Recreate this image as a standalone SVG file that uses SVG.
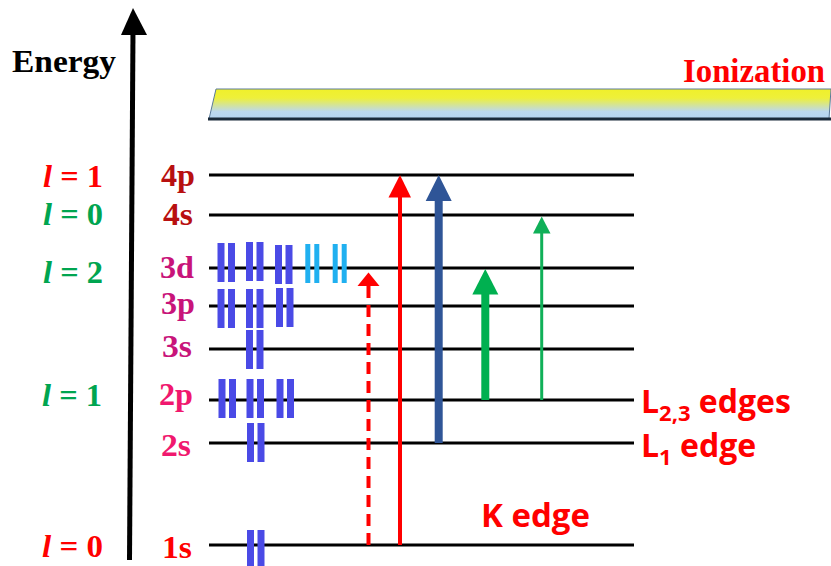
<svg xmlns="http://www.w3.org/2000/svg" xmlns:xlink="http://www.w3.org/1999/xlink" width="831" height="566" viewBox="0 0 831 566">
<defs>
<style>
.lvl{stroke:#000;stroke-width:3;fill:none}
.orb{font-family:"Liberation Serif",serif;font-weight:bold;font-size:31px;text-anchor:middle}
.ell{font-family:"Liberation Serif",serif;font-weight:bold;font-size:32px}
.edge{font-family:"Open Sans","Liberation Sans",sans-serif;font-weight:bold;fill:#ff0000}
.e{fill:#4a4ae6}
.c{fill:#20b0f0}
.red{fill:#ff0000}
.grn{fill:#00a550}
</style>
<linearGradient id="ion" x1="0" y1="0" x2="0" y2="1">
<stop offset="0" stop-color="#f0f02a"/>
<stop offset="0.3" stop-color="#eef03a"/>
<stop offset="0.75" stop-color="#bcd8ee"/>
<stop offset="1" stop-color="#b4d4f2"/>
</linearGradient>
<g id="pair"><rect x="0" y="0" width="7" height="39"/><rect x="10.5" y="0" width="7" height="39"/></g>
<g id="cpair"><rect x="0" y="0" width="5" height="39"/><rect x="9" y="0" width="5" height="39"/></g>
</defs>
<rect width="831" height="566" fill="#fff"/>

<g id="axis">
<line x1="133" y1="30" x2="129.5" y2="560" stroke="#000" stroke-width="5"/>
<polygon points="133,8 147,35 121,35" fill="#000"/>
<text x="12" y="72" font-family="Liberation Serif,serif" font-weight="bold" font-size="32" textLength="104" lengthAdjust="spacingAndGlyphs">Energy</text>
</g>

<g id="ionization">
<polygon points="216,89 831,89 829,119 209,119" fill="url(#ion)" stroke="#5a7a9a" stroke-width="1"/>
<line x1="208" y1="119" x2="831" y2="119" stroke="#1a2a3a" stroke-width="3"/>
<text x="683" y="82" font-family="Liberation Serif,serif" font-weight="bold" font-size="33" fill="#ff0000" textLength="142" lengthAdjust="spacingAndGlyphs">Ionization</text>
</g>

<g id="level-4p"><line class="lvl" x1="209" y1="175" x2="634" y2="175"/><text class="orb" x="178" y="186" fill="#b81010" textLength="34" lengthAdjust="spacingAndGlyphs">4p</text></g>
<g id="level-4s"><line class="lvl" x1="209" y1="215" x2="634" y2="215"/><text class="orb" x="178" y="225" fill="#b81010" textLength="30" lengthAdjust="spacingAndGlyphs">4s</text></g>
<g id="level-3d"><line class="lvl" x1="209" y1="268" x2="634" y2="268"/><text class="orb" x="177" y="278" fill="#c8147a" textLength="34" lengthAdjust="spacingAndGlyphs">3d</text></g>
<g id="level-3p"><line class="lvl" x1="209" y1="306" x2="634" y2="306"/><text class="orb" x="178" y="314" fill="#c8147a" textLength="34" lengthAdjust="spacingAndGlyphs">3p</text></g>
<g id="level-3s"><line class="lvl" x1="209" y1="349" x2="634" y2="349"/><text class="orb" x="177" y="357" fill="#c8147a" textLength="30" lengthAdjust="spacingAndGlyphs">3s</text></g>
<g id="level-2p"><line class="lvl" x1="209" y1="400" x2="634" y2="400"/><text class="orb" x="176" y="405" fill="#f0186e" textLength="34" lengthAdjust="spacingAndGlyphs">2p</text></g>
<g id="level-2s"><line class="lvl" x1="209" y1="443" x2="634" y2="443"/><text class="orb" x="176" y="456" fill="#f0186e" textLength="30" lengthAdjust="spacingAndGlyphs">2s</text></g>
<g id="level-1s"><line class="lvl" x1="209" y1="545" x2="634" y2="545"/><text class="orb" x="177" y="558" fill="#ff0000" textLength="30" lengthAdjust="spacingAndGlyphs">1s</text></g>

<g id="l-labels">
<text class="ell red" x="43" y="187" textLength="60" lengthAdjust="spacingAndGlyphs"><tspan font-style="italic">l</tspan> = 1</text>
<text class="ell grn" x="43" y="225" textLength="60" lengthAdjust="spacingAndGlyphs"><tspan font-style="italic">l</tspan> = 0</text>
<text class="ell grn" x="43" y="283" textLength="60" lengthAdjust="spacingAndGlyphs"><tspan font-style="italic">l</tspan> = 2</text>
<text class="ell grn" x="42" y="406" textLength="60" lengthAdjust="spacingAndGlyphs"><tspan font-style="italic">l</tspan> = 1</text>
<text class="ell red" x="42" y="557" textLength="61" lengthAdjust="spacingAndGlyphs"><tspan font-style="italic">l</tspan> = 0</text>
</g>

<g id="electrons">
<g class="e">
<use xlink:href="#pair" x="217.5" y="243"/><use xlink:href="#pair" x="246" y="242"/><use xlink:href="#pair" x="275" y="245"/>
<use xlink:href="#pair" x="217.5" y="289"/><use xlink:href="#pair" x="246" y="289"/><use xlink:href="#pair" x="276" y="288"/>
<use xlink:href="#pair" x="246" y="330"/>
<use xlink:href="#pair" x="218.5" y="379"/><use xlink:href="#pair" x="246.5" y="379"/><use xlink:href="#pair" x="276.5" y="379"/>
<use xlink:href="#pair" x="247" y="423"/>
<use xlink:href="#pair" x="247" y="530"/>
</g>
<g class="c">
<use xlink:href="#cpair" x="305.3" y="244"/><use xlink:href="#cpair" x="332.7" y="244"/>
</g>
</g>

<g id="connectors">
<line x1="368.5" y1="545" x2="368.5" y2="286" stroke="#ff0000" stroke-width="4" stroke-dasharray="12,7"/>
<polygon points="368.5,272.5 379.5,286 357.5,286" fill="#ff0000"/>
<line x1="400" y1="545" x2="400" y2="196" stroke="#ff0000" stroke-width="4"/>
<polygon points="400,175 411,197.5 388.5,197.5" fill="#ff0000"/>
<line x1="438.7" y1="443" x2="438.7" y2="200" stroke="#2f5597" stroke-width="8"/>
<polygon points="438.7,175 451.7,201 425.7,201" fill="#2f5597"/>
<line x1="485.3" y1="400" x2="485.3" y2="293" stroke="#00b050" stroke-width="8"/>
<polygon points="485.3,269 498.3,294.5 472.3,294.5" fill="#00b050"/>
<line x1="541.7" y1="400" x2="541.7" y2="232" stroke="#10b058" stroke-width="3"/>
<polygon points="541.7,216.5 550.5,233.5 533,233.5" fill="#10b058"/>
</g>

<g id="edge-labels">
<text class="edge" x="641" y="413" font-size="32">L<tspan font-size="22" dy="8">2,3</tspan><tspan dy="-8" font-size="32"> edges</tspan></text>
<text class="edge" x="641" y="457" font-size="32">L<tspan font-size="22" dy="8">1</tspan><tspan dy="-8" font-size="32"> edge</tspan></text>
<text class="edge" x="481" y="527" font-size="33">K edge</text>
</g>
</svg>
